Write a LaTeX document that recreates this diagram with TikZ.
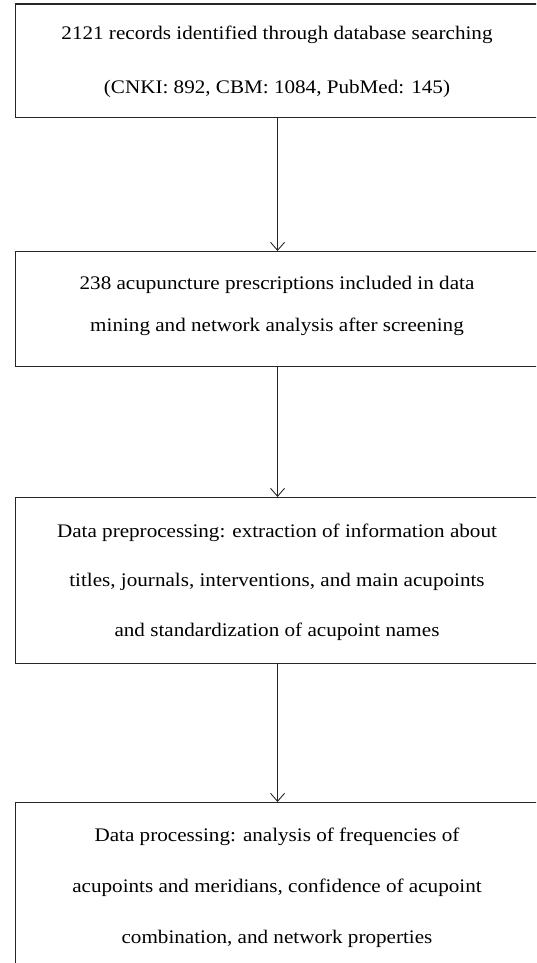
\documentclass[tikz,border=0pt]{standalone}
\usepackage{fontspec}
\setmainfont{Liberation Serif}[FakeStretch=1.1]
\usetikzlibrary{arrows.meta}
\begin{document}
\begin{tikzpicture}[x=1pt,y=-1pt,
  flowbox/.style={draw=black!85, line width=1.1pt, rectangle, anchor=north west, inner sep=0pt},
  flowtext/.style={align=center, font=\fontsize{19.2}{19.2}\selectfont, inner sep=0pt},
  flowarrow/.style={draw=black!85, line width=0.9pt, -{Straight Barb[length=8pt,width=14pt,line width=0.9pt]}}]
\useasboundingbox (0,0) rectangle (536,963);
\clip (0,0) rectangle (536,963);
\node[flowbox, minimum width=524pt, minimum height=113.5pt] (b1) at (15,3.5) {};
\node[flowbox, minimum width=524pt, minimum height=115pt] (b2) at (15,251) {};
\node[flowbox, minimum width=524pt, minimum height=166pt] (b3) at (15,497) {};
\node[flowbox, minimum width=524pt, minimum height=200pt] (b4) at (15,802) {};
\node[flowtext] (t1a) at (277,35) {2121 records identified through database searching};
\node[flowtext] (t1b) at (277,89) {(CNKI: 892, CBM: 1084, PubMed: 145)};
\node[flowtext] (t2a) at (277,285) {238 acupuncture prescriptions included in data};
\node[flowtext] (t2b) at (277,327) {mining and network analysis after screening};
\node[flowtext] (t3a) at (277,533) {Data preprocessing: extraction of information about};
\node[flowtext] (t3b) at (277,582) {titles, journals, interventions, and main acupoints};
\node[flowtext] (t3c) at (277,632) {and standardization of acupoint names};
\node[flowtext] (t4a) at (277,837) {Data processing: analysis of frequencies of};
\node[flowtext] (t4b) at (277,888) {acupoints and meridians, confidence of acupoint};
\node[flowtext] (t4c) at (277,939) {combination, and network properties};
\draw[flowarrow] (b1.south) -- (b2.north);
\draw[flowarrow] (b2.south) -- (b3.north);
\draw[flowarrow] (b3.south) -- (b4.north);
\end{tikzpicture}
\end{document}
